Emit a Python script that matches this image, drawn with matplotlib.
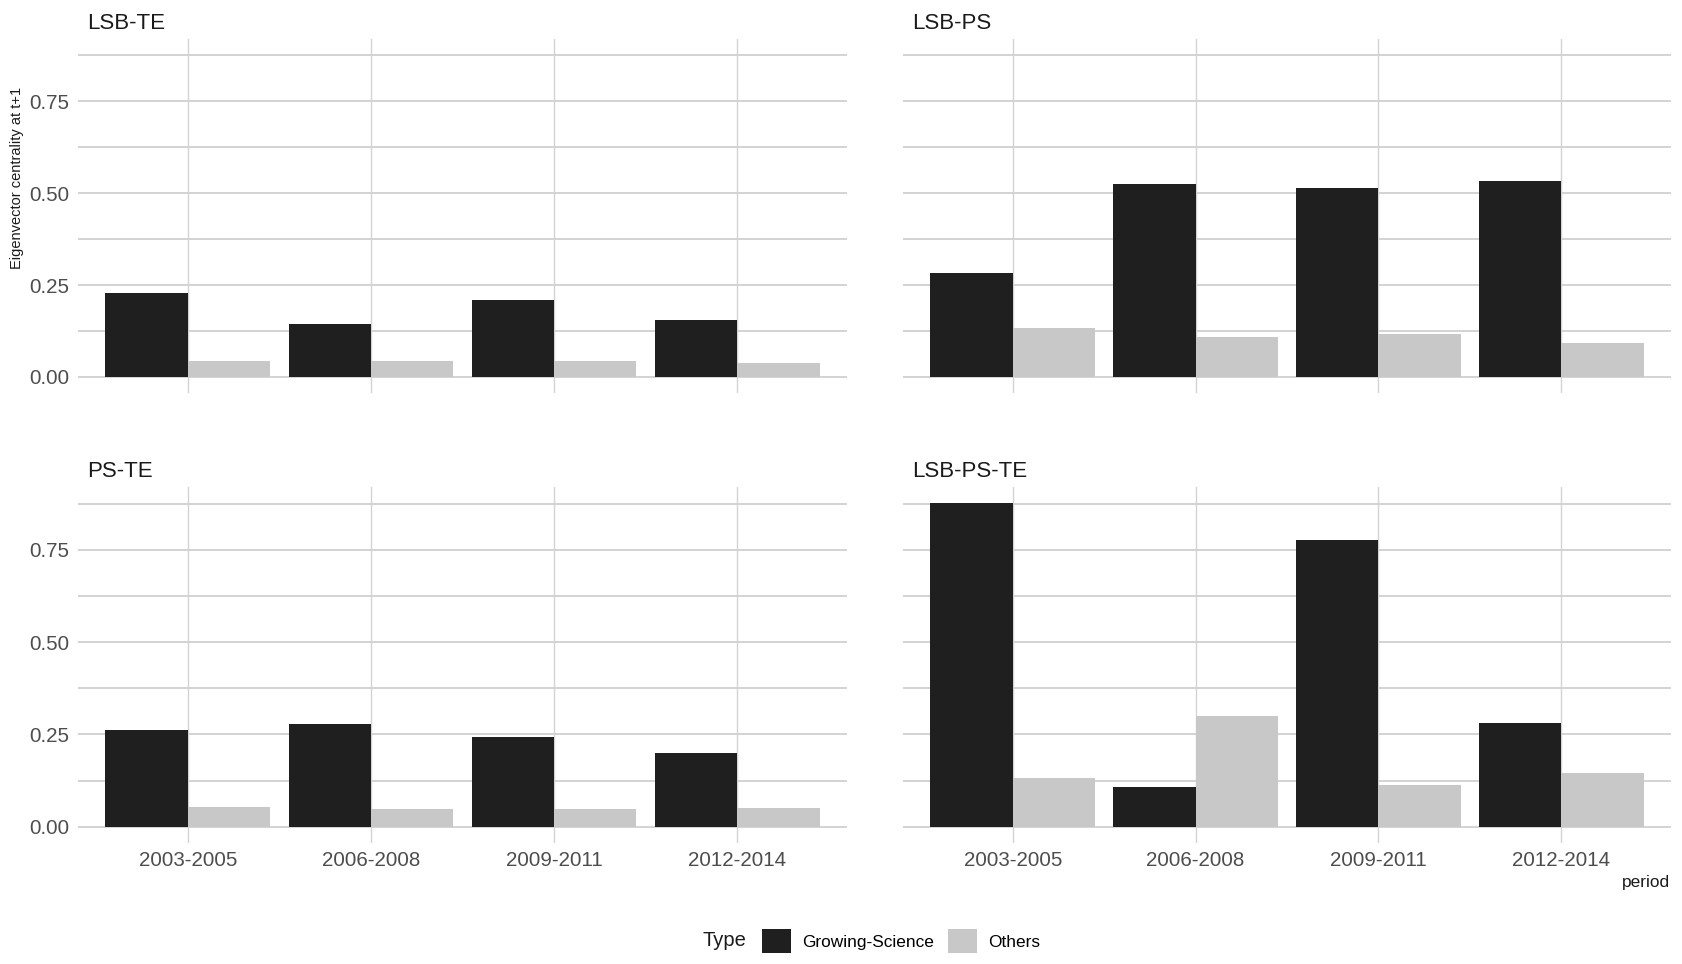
import numpy as np
import matplotlib
matplotlib.use("Agg")
import matplotlib.pyplot as plt
from matplotlib.patches import Patch
from matplotlib.transforms import offset_copy

plt.rcParams['font.family'] = ['Liberation Sans', 'DejaVu Sans']

periods = ['2003-2005', '2006-2008', '2009-2011', '2012-2014']
panels = ['LSB-TE', 'LSB-PS', 'PS-TE', 'LSB-PS-TE']
types = ['Growing-Science', 'Others']

growing = {
    'LSB-TE':    [0.229, 0.145, 0.210, 0.156],
    'LSB-PS':    [0.284, 0.524, 0.515, 0.534],
    'PS-TE':     [0.263, 0.279, 0.243, 0.201],
    'LSB-PS-TE': [0.876, 0.108, 0.775, 0.282],
}
others = {
    'LSB-TE':    [0.044, 0.044, 0.044, 0.039],
    'LSB-PS':    [0.132, 0.109, 0.118, 0.091],
    'PS-TE':     [0.054, 0.048, 0.048, 0.051],
    'LSB-PS-TE': [0.133, 0.301, 0.113, 0.147],
}

c_gs = '#1f1f1f'
c_ot = '#c8c8c8'
grid_c = '#d3d3d3'

W, H = 1683, 964
fig = plt.figure(figsize=(W / 100, H / 100), dpi=100)

# panel boxes in pixels: (left, right) and (top, bottom)
xs = [(78, 847), (903, 1671)]
ys = [(39, 393), (487, 843)]

ymax = max(max(v) for v in growing.values())
ylo, yhi = -0.05 * ymax, ymax * 1.05
x = np.arange(1, len(periods) + 1)
bw = 0.45

for i, name in enumerate(panels):
    r, c = divmod(i, 2)
    l, rr = xs[c]
    t, b = ys[r]
    ax = fig.add_axes([l / W, 1 - b / H, (rr - l) / W, (b - t) / H])
    ax.set_xlim(0.4, len(periods) + 0.6)
    ax.set_ylim(ylo, yhi)
    for s in ax.spines.values():
        s.set_visible(False)
    for yv in np.arange(0, 0.9, 0.125):
        ax.axhline(yv, color=grid_c, lw=1.4, zorder=0)
    for xv in x:
        ax.axvline(xv, color=grid_c, lw=1.0, zorder=0)
    ax.bar(x - bw / 2, growing[name], bw, color=c_gs, zorder=2)
    ax.bar(x + bw / 2, others[name], bw, color=c_ot, zorder=2)
    ax.tick_params(length=0, colors='#4d4d4d', pad=6)
    ax.set_yticks([0, 0.25, 0.5, 0.75])
    if c == 0:
        ax.set_yticklabels(['0.00', '0.25', '0.50', '0.75'], fontsize=14.8)
    else:
        ax.set_yticklabels([])
    ax.set_xticks(x)
    if r == 1:
        ax.set_xticklabels(periods, fontsize=14.8)
    else:
        ax.set_xticklabels([])
    tr = offset_copy(ax.transAxes, fig=fig, x=9, y=10, units='dots')
    ax.text(0, 1, name, transform=tr, fontsize=16, color='#1a1a1a', ha='left', va='baseline')

fig.text(17 / W, 1 - 178 / H, 'Eigenvector centrality at t+1', rotation=90,
         fontsize=10.5, color='#1a1a1a', ha='center', va='center')
fig.text(1670 / W, 1 - 883 / H, 'period', fontsize=12.4, color='#1a1a1a', ha='right', va='center')

fig.text(703 / W, 1 - 941 / H, 'Type', fontsize=14.5, color='#1a1a1a', ha='left', va='center')
handles = [Patch(facecolor=c_gs, edgecolor='none'), Patch(facecolor=c_ot, edgecolor='none')]
fig.legend(handles, types, loc='center left', bbox_to_anchor=(762 / W, 1 - 941 / H),
           ncol=2, frameon=False, fontsize=12.4, handlelength=1.7, handleheight=1.7,
           handletextpad=0.65, columnspacing=0.8, borderpad=0, borderaxespad=0)

fig.savefig('out.png', dpi=100, facecolor='white')
